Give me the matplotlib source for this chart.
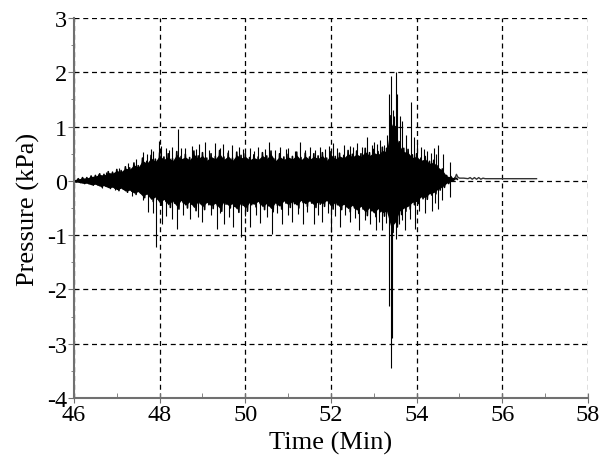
import numpy as np
import matplotlib
matplotlib.use("Agg")
from matplotlib import pyplot as plt
from matplotlib.ticker import MultipleLocator

plt.rcParams['font.family'] = ['Liberation Serif', 'DejaVu Serif']
plt.rcParams['axes.unicode_minus'] = False

# upper and lower swing of the oscillation, read every 0.1 min (46.0 .. 54.9)
env_t = np.round(np.arange(46.0, 54.95, 0.1), 1)
env_hi = [0.02, 0.04, 0.06, 0.06, 0.09, 0.10, 0.13, 0.12, 0.17, 0.16,
          0.21, 0.19, 0.26, 0.24, 0.33, 0.28, 0.42, 0.36, 0.47, 0.40,
          0.52, 0.44, 0.50, 0.41, 0.54, 0.45, 0.49, 0.43, 0.55, 0.46,
          0.52, 0.42, 0.50, 0.45, 0.56, 0.44, 0.51, 0.42, 0.53, 0.47,
          0.50, 0.43, 0.48, 0.44, 0.52, 0.46, 0.55, 0.41, 0.50, 0.44,
          0.49, 0.45, 0.53, 0.43, 0.51, 0.44, 0.50, 0.46, 0.52, 0.42,
          0.54, 0.45, 0.51, 0.47, 0.56, 0.49, 0.55, 0.50, 0.60, 0.52,
          0.58, 0.54, 0.62, 0.60, 1.20, 1.00, 0.72, 0.60, 0.58, 0.48,
          0.50, 0.42, 0.45, 0.36, 0.38, 0.28, 0.22, 0.10, 0.08, 0.06]
env_lo = [-0.02, -0.03, -0.05, -0.05, -0.08, -0.07, -0.11, -0.10, -0.14, -0.13,
          -0.18, -0.15, -0.21, -0.19, -0.25, -0.22, -0.31, -0.27, -0.38, -0.33,
          -0.45, -0.38, -0.49, -0.41, -0.52, -0.40, -0.50, -0.43, -0.55, -0.42,
          -0.53, -0.44, -0.51, -0.46, -0.56, -0.43, -0.50, -0.47, -0.58, -0.45,
          -0.56, -0.44, -0.48, -0.42, -0.53, -0.46, -0.57, -0.45, -0.52, -0.41,
          -0.49, -0.42, -0.50, -0.40, -0.47, -0.41, -0.49, -0.43, -0.47, -0.40,
          -0.52, -0.44, -0.53, -0.48, -0.57, -0.50, -0.60, -0.52, -0.64, -0.55,
          -0.66, -0.57, -0.65, -0.62, -0.95, -0.85, -0.62, -0.56, -0.52, -0.44,
          -0.42, -0.33, -0.34, -0.26, -0.24, -0.17, -0.12, -0.05, 0.00, 0.03]

# individual peaks sticking out of the envelope
spike_t = [46.55, 46.75, 47.05, 47.25, 47.45, 47.60, 47.70, 47.85, 47.98, 48.02,
           48.15, 48.30, 48.42, 48.60, 48.75, 48.92, 49.06, 49.30, 49.48, 49.70,
           49.85, 50.10, 50.30, 50.55, 50.80, 51.00, 51.27, 51.50, 51.74, 51.95,
           52.05, 52.30, 52.44, 52.60, 52.83, 53.00, 53.15, 53.30, 53.36, 53.40,
           53.44, 53.47, 53.51, 53.55, 53.61, 53.65, 53.75, 53.88, 53.95, 54.10,
           54.25, 54.40, 54.51, 54.62, 54.79,
           47.80, 48.22, 48.50, 48.85, 49.15, 49.40, 49.60, 49.95, 50.20, 50.45,
           50.70, 50.95, 51.15, 51.40, 51.62, 51.85, 52.15, 52.52, 52.72, 52.95,
           53.08, 53.24, 54.00, 54.18, 54.33, 54.45,
           46.65, 46.95, 47.35, 47.60, 47.72, 47.91, 48.05, 48.30, 48.40, 48.70,
           49.00, 49.33, 49.50, 49.72, 49.90, 50.10, 50.35, 50.63, 50.85, 51.10,
           51.35, 51.60, 51.80, 52.00, 52.20, 52.44, 52.65, 52.90, 53.05, 53.20,
           53.36, 53.40, 53.43, 53.53, 53.60, 53.72, 53.96, 54.20, 54.35, 54.51,
           54.60, 54.79,
           47.85, 48.15, 48.55, 48.90, 49.20, 49.42, 49.62, 50.00, 50.25, 50.50,
           50.75, 51.00, 51.22, 51.45, 51.70, 51.92, 52.10, 52.32, 52.55, 52.80,
           53.12, 53.28, 53.65, 53.85, 54.05, 54.42]
spike_v = [0.12, 0.17, 0.24, 0.32, 0.40, 0.53, 0.50, 0.55, 0.74, 0.65,
           0.60, 0.62, 0.96, 0.60, 0.65, 0.68, 0.72, 0.70, 0.68, 0.66,
           0.62, 0.60, 0.62, 0.71, 0.62, 0.60, 0.72, 0.63, 0.62, 0.65,
           0.70, 0.66, 0.64, 0.70, 0.80, 0.72, 0.75, 0.85, 1.60, 1.94,
           1.30, 1.20, 2.00, 1.60, 1.20, 1.10, 0.85, 1.45, 0.80, 0.62,
           0.55, 0.60, 0.66, 0.50, 0.34,
           0.58, 0.57, 0.60, 0.58, 0.56, 0.60, 0.57, 0.58, 0.55, 0.59,
           0.56, 0.58, 0.55, 0.57, 0.56, 0.59, 0.60, 0.63, 0.62, 0.66,
           0.68, 0.66, 0.70, 0.58, 0.52, 0.50,
           -0.13, -0.17, -0.28, -0.36, -0.58, -1.22, -0.80, -0.70, -0.88, -0.70,
           -0.75, -0.88, -0.80, -0.85, -1.04, -0.85, -0.78, -0.98, -0.80, -0.75,
           -0.80, -0.80, -0.75, -0.95, -0.85, -0.76, -0.90, -0.80, -0.91, -0.90,
           -2.30, -3.45, -2.90, -1.07, -0.80, -0.90, -0.88, -0.60, -0.55, -0.52,
           -0.35, -0.30,
           -0.60, -0.65, -0.62, -0.66, -0.63, -0.60, -0.67, -0.64, -0.62, -0.66,
           -0.60, -0.63, -0.61, -0.58, -0.62, -0.60, -0.64, -0.62, -0.68, -0.72,
           -0.75, -0.78, -0.72, -0.70, -0.55, -0.40]

# quiet tail after the event
tail_t = [54.90, 54.93, 54.96, 55.00, 55.10, 55.20, 55.25, 55.30, 55.35, 55.40,
          55.45, 55.50, 55.55, 55.60, 56.80]
tail_v = [0.06, 0.12, 0.07, 0.05, 0.05, 0.04, 0.06, 0.03, 0.06, 0.03,
          0.06, 0.03, 0.05, 0.04, 0.04]

fig = plt.figure(figsize=(6.03, 4.6), dpi=100)
ax = fig.add_axes([0.1227, 0.1326, 0.8523, 0.8261])

# zigzag between the upper and lower swing gives the dense black band
zz_t = np.column_stack([env_t, env_t + 0.05]).ravel()
zz_v = np.column_stack([env_hi, env_lo]).ravel()
ax.fill_between(env_t, np.array(env_lo) * 0.9, np.array(env_hi) * 0.9, color='black', lw=0)
ax.plot(zz_t, zz_v, color='black', lw=1.2)
ax.vlines(spike_t, 0, spike_v, color='black', lw=0.8)
ax.plot(tail_t, tail_v, color='#333333', lw=1.0)

ax.set_xlim(46, 58)
ax.set_ylim(-4, 3)
ax.xaxis.set_major_locator(MultipleLocator(2))
ax.xaxis.set_minor_locator(MultipleLocator(1))
ax.yaxis.set_major_locator(MultipleLocator(1))
ax.yaxis.set_minor_locator(MultipleLocator(0.5))

ax.grid(True, which='major', color='black', linestyle=(0, (4, 3)), lw=0.9)
for s in ['top', 'right']:
    ax.spines[s].set_visible(False)
for s in ['left', 'bottom']:
    ax.spines[s].set_color('#707070')
    ax.spines[s].set_linewidth(1.5)

ax.tick_params(axis='x', which='major', direction='inout', length=7, color='#707070', labelsize=17.5, pad=1)
ax.tick_params(axis='x', which='minor', direction='in', length=3.5, color='#707070')
ax.tick_params(axis='y', which='major', direction='out', length=4, color='#707070', labelsize=17.5, pad=1)
ax.tick_params(axis='y', which='minor', direction='out', length=2.5, color='#707070')

ax.set_xlabel('Time (Min)', fontsize=19, labelpad=4)
ax.set_ylabel('Pressure (kPa)', fontsize=19, labelpad=5)

fig.savefig('out.png', dpi=100)
